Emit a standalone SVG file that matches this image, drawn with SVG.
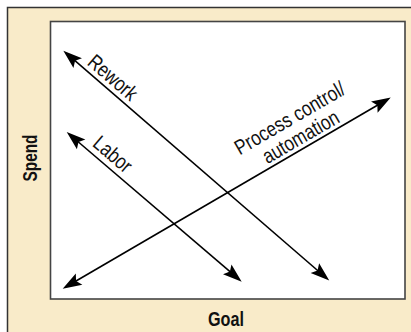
<svg xmlns="http://www.w3.org/2000/svg" width="411" height="332" viewBox="0 0 411 332">
  <style>
    .lbl { font-family: "Liberation Sans Narrow", "Liberation Sans", Arial, sans-serif; font-size: 21px; fill: #111; }
    .axis { font-family: "Liberation Sans Narrow", "Liberation Sans", Arial, sans-serif; font-size: 21px; font-weight: bold; fill: #111; }
    .arrow { stroke: #000; stroke-width: 1.6; fill: none; marker-start: url(#head); marker-end: url(#head); }
  </style>
  <defs>
    <marker id="head" markerUnits="userSpaceOnUse" markerWidth="30" markerHeight="30" refX="0" refY="0" viewBox="-15 -15 30 30" orient="auto-start-reverse" overflow="visible">
      <path d="M10,0 L-9,-6.5 L-5.5,0 L-9,6.5 Z" fill="#000"/>
    </marker>
  </defs>

  <!-- panel background with top and left rule -->
  <rect x="7.5" y="7.5" width="404" height="325" fill="#F9EBC9"/>
  <path d="M7.5,332 V7.5 H411" fill="none" stroke="#333" stroke-width="1.5"/>

  <!-- plot area -->
  <g id="plot">
    <rect x="50.5" y="21.5" width="354.5" height="277.5" fill="#fff" stroke="#444" stroke-width="1.6"/>
  </g>

  <!-- connectors -->
  <g id="connectors">
    <line id="rework-line" class="arrow" x1="70.9" y1="57.2" x2="321.7" y2="274.0"/>
    <line id="labor-line" class="arrow" x1="74.3" y1="138.5" x2="234.1" y2="275.2"/>
    <line id="process-line" class="arrow" x1="71.3" y1="283.7" x2="382.1" y2="102.5"/>
  </g>

  <!-- line labels -->
  <g id="rework" transform="translate(63.3,50.7) rotate(40.8)">
    <text class="lbl" x="55" y="-5" text-anchor="middle" textLength="58" lengthAdjust="spacingAndGlyphs">Rework</text>
  </g>
  <g id="labor" transform="translate(66.7,132) rotate(40.5)">
    <text class="lbl" x="49.5" y="-6" text-anchor="middle" textLength="44" lengthAdjust="spacingAndGlyphs">Labor</text>
  </g>
  <g id="process" transform="translate(62.7,288.7) rotate(-30.2)">
    <text class="lbl" x="282" y="-26" text-anchor="middle" textLength="124" lengthAdjust="spacingAndGlyphs">Process control/</text>
    <text class="lbl" x="282" y="-4.5" text-anchor="middle" textLength="85" lengthAdjust="spacingAndGlyphs">automation</text>
  </g>

  <!-- axis titles -->
  <g id="goal">
    <text class="axis" x="226" y="325.5" text-anchor="middle" textLength="36" lengthAdjust="spacingAndGlyphs">Goal</text>
  </g>
  <g id="spend" transform="translate(36.5,158) rotate(-90)">
    <text class="axis" x="0" y="0" text-anchor="middle" textLength="47" lengthAdjust="spacingAndGlyphs">Spend</text>
  </g>
</svg>
